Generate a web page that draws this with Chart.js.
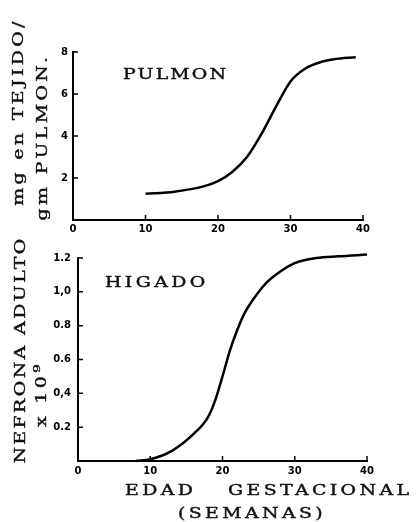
<!DOCTYPE html>
<html>
<head>
<meta charset="utf-8">
<script src="https://cdn.jsdelivr.net/npm/chart.js@4.4.1/dist/chart.umd.min.js"></script>
<style>
    html, body { margin: 0; padding: 0; background: #fff; }
    #wrap { position: relative; width: 418px; height: 522px; overflow: hidden; }
    canvas { position: absolute; left: 0; }
    .lbl {
        position: absolute;
        font-family: "DejaVu Serif", serif;
        font-size: 14px;
        letter-spacing: 2.5px;
        color: #111;
        -webkit-text-stroke: 0.4px #111;
        white-space: nowrap;
        transform-origin: left center;
        transform: translate(0, -50%) scaleX(1.35);
    }
    .rot {
        transform-origin: center center;
        transform: translate(-50%, -50%) rotate(-90deg) scaleX(1.35);
    }
    sup { font-size: 10px; }
</style>
</head>
<body>
<div id="wrap">
    <canvas id="chartPulmon" width="418" height="240" style="top:0"></canvas>
    <canvas id="chartHigado" width="418" height="282" style="top:240px"></canvas>

    <div class="lbl rot" style="left:18px; top:112px">mg en TEJIDO/</div>
    <div class="lbl rot" style="left:42px; top:137px">gm PULMON.</div>
    <div class="lbl rot" style="left:20px; top:350px; letter-spacing:1.8px">NEFRONA ADULTO</div>
    <div class="lbl rot" style="left:40px; top:394px">x 10<sup>9</sup></div>

    <div class="lbl" style="left:123px; top:74px; letter-spacing:1.6px">PULMON</div>
    <div class="lbl" style="left:105px; top:282px">HIGADO</div>
    <div class="lbl" style="left:125px; top:490px">EDAD</div>
    <div class="lbl" style="left:228px; top:490px">GESTACIONAL</div>
    <div class="lbl" style="left:178px; top:513px">(SEMANAS)</div>
</div>
<script>
// semanas de gestacion
const pulmonWeeks = [10, 14, 18, 20, 22, 24, 26, 28, 30, 32, 34, 36, 39];
const pulmonValues = [1.25, 1.35, 1.6, 1.85, 2.3, 3.0, 4.1, 5.4, 6.6, 7.2, 7.5, 7.65, 7.75];

const higadoWeeks = [8, 10, 13, 16, 18, 19, 20, 21, 22, 23, 24, 26, 28, 30, 33, 36, 40];
const higadoValues = [0, 0.01, 0.06, 0.16, 0.26, 0.36, 0.5, 0.65, 0.77, 0.87, 0.94, 1.05, 1.12, 1.17, 1.2, 1.21, 1.22];

const xTicks = [0, 10, 20, 30, 40];
const pulmonYTicks = ['', '2', '4', '6', '8'];
const higadoYTicks = ['', '0.2', '0,4', '0.6', '0.8', '1,0', '1.2'];

const tickFont = { family: 'DejaVu Sans', size: 10, weight: 'bold' };

// marcas de tick hacia adentro del area
const inwardTicks = {
    id: 'inwardTicks',
    afterDraw(chart) {
        const ctx = chart.ctx;
        const xs = chart.scales.x;
        const ys = chart.scales.y;
        ctx.save();
        ctx.strokeStyle = '#000';
        ctx.lineWidth = 1.5;
        ctx.beginPath();
        xs.ticks.forEach(t => {
            const px = xs.getPixelForValue(t.value);
            ctx.moveTo(px, xs.top);
            ctx.lineTo(px, xs.top - 5);
        });
        ys.ticks.forEach(t => {
            const py = ys.getPixelForValue(t.value);
            ctx.moveTo(ys.right, py);
            ctx.lineTo(ys.right + 5, py);
        });
        ctx.stroke();
        ctx.restore();
    }
};

function makeChart(canvas, weeks, values, opts) {
    return new Chart(canvas, {
        type: 'line',
        data: {
            datasets: [{
                data: weeks.map((w, i) => ({ x: w, y: values[i] })),
                borderColor: '#000',
                borderWidth: 2.5,
                pointRadius: 0,
                cubicInterpolationMode: 'monotone',
                fill: false,
                clip: false
            }]
        },
        options: {
            responsive: false,
            animation: false,
            layout: { padding: opts.padding },
            plugins: { legend: { display: false }, tooltip: { enabled: false } },
            scales: {
                x: {
                    type: 'linear',
                    min: 0,
                    max: 40,
                    afterFit: s => { s.height = opts.xHeight; },
                    afterBuildTicks: s => { s.ticks = xTicks.map(v => ({ value: v })); },
                    border: { color: '#000', width: 2 },
                    grid: { drawOnChartArea: false, drawTicks: false },
                    ticks: { color: '#000', font: tickFont, padding: opts.xPad, maxRotation: 0 }
                },
                y: {
                    min: 0,
                    max: opts.yMax,
                    afterFit: s => { s.width = opts.yWidth; },
                    border: { color: '#000', width: 2 },
                    grid: { drawOnChartArea: false, drawTicks: false },
                    ticks: {
                        stepSize: opts.yStep,
                        color: '#000',
                        font: tickFont,
                        padding: opts.yPad,
                        callback: (v, i) => opts.yLabels[i]
                    }
                }
            }
        },
        plugins: [inwardTicks]
    });
}

makeChart(document.getElementById('chartPulmon'), pulmonWeeks, pulmonValues, {
    padding: { top: 52, right: 55, left: 0, bottom: 0 },
    xHeight: 20, yWidth: 73, xPad: 3, yPad: 5,
    yMax: 8, yStep: 2, yLabels: pulmonYTicks
});

makeChart(document.getElementById('chartHigado'), higadoWeeks, higadoValues, {
    padding: { top: 18, right: 51, left: 0, bottom: 0 },
    xHeight: 61, yWidth: 78, xPad: 4, yPad: 7,
    yMax: 1.2, yStep: 0.2, yLabels: higadoYTicks
});
</script>
</body>
</html>
